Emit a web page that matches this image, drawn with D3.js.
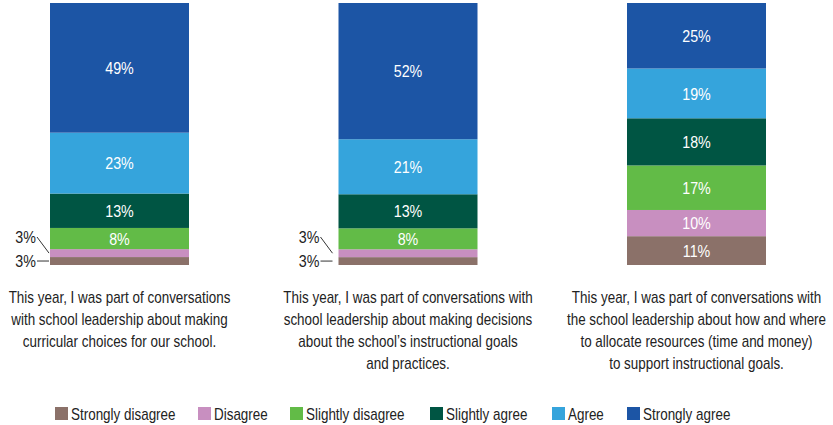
<!DOCTYPE html>
<meta charset="utf-8">
<style>
body { margin: 0; background: #fff; }
text { font-family: "Liberation Sans", Arial, sans-serif; }
</style>
<body>
<svg width="833" height="425"></svg>
<script src="https://cdn.jsdelivr.net/npm/d3@7"></script>
<script>
// categories (one per bar), label lines as shown
var categories = ["q1", "q2", "q3"];
var categoryLines = [
  ["This year, I was part of conversations", "with school leadership about making", "curricular choices for our school."],
  ["This year, I was part of conversations with", "school leadership about making decisions", "about the school\u2019s instructional goals", "and practices."],
  ["This year, I was part of conversations with", "the school leadership about how and where", "to allocate resources (time and money)", "to support instructional goals."]
];

// series, bottom to top
var keys = ["Strongly disagree", "Disagree", "Slightly disagree", "Slightly agree", "Agree", "Strongly agree"];
var stronglyDisagree = [3, 3, 11];
var disagree         = [3, 3, 10];
var slightlyDisagree = [8, 8, 17];
var slightlyAgree    = [13, 13, 18];
var agree            = [23, 21, 19];
var stronglyAgree    = [49, 52, 25];
var colors = ["#8b7169", "#c88fc0", "#62bb47", "#005543", "#35a4dc", "#1c55a5"];

var series = [stronglyDisagree, disagree, slightlyDisagree, slightlyAgree, agree, stronglyAgree];
var data = categories.map(function(c, i) {
  var row = {cat: c};
  keys.forEach(function(k, j) { row[k] = series[j][i]; });
  return row;
});

var svg = d3.select("svg");
var SX = 0.84; // squeeze to mimic the condensed face

// text helper: condensed look via horizontal scale
function label(px, py, anchor, fill, size) {
  return svg.append("text")
    .attr("transform", "translate(" + px + "," + py + ") scale(" + SX + ",1)")
    .attr("text-anchor", anchor)
    .attr("fill", fill)
    .attr("font-size", size);
}

var x = d3.scalePoint()
    .domain(categories)
    .range([119.5, 696.5]);
var barW = 139;

var y = d3.scaleLinear()
    .domain([0, 1])
    .range([265, 3]);

var z = d3.scaleOrdinal().domain(keys).range(colors);

var stacked = d3.stack().keys(keys).offset(d3.stackOffsetExpand)(data);

var layers = svg.append("g")
  .selectAll("g")
  .data(stacked)
  .enter().append("g")
    .attr("fill", function(d) { return z(d.key); });

layers.selectAll("rect")
  .data(function(d) { return d; })
  .enter().append("rect")
    .attr("x", function(d) { return x(d.data.cat) - barW / 2; })
    .attr("y", function(d) { return y(d[1]); })
    .attr("height", function(d) { return y(d[0]) - y(d[1]); })
    .attr("width", barW);

// value labels inside segments that are tall enough
stacked.forEach(function(layer) {
  layer.forEach(function(d) {
    var v = d.data[layer.key];
    var h = y(d[0]) - y(d[1]);
    var cy = (y(d[0]) + y(d[1])) / 2;
    if (h >= 16) {
      label(x(d.data.cat), cy, "middle", "#fff", 17)
        .attr("dy", "0.36em")
        .text(v + "%");
    }
  });
});

// outside labels with leaders for the small bottom segments
categories.forEach(function(c, i) {
  var bx = x(c) - barW / 2;
  var gap = i === 0 ? 1 : 6;
  var p = stacked[1][i];
  var pcy = (y(p[0]) + y(p[1])) / 2;
  if (y(p[0]) - y(p[1]) < 16) {
    svg.append("line")
      .attr("x1", bx - gap - 12).attr("y1", 237)
      .attr("x2", bx - gap).attr("y2", pcy)
      .attr("stroke", "#333").attr("stroke-width", 1);
    label(bx - gap - 13, 237, "end", "#222", 17)
      .attr("dy", "0.36em")
      .text(p.data[keys[1]] + "%");
  }
  var b = stacked[0][i];
  var bcy = (y(b[0]) + y(b[1])) / 2;
  if (y(b[0]) - y(b[1]) < 16) {
    svg.append("line")
      .attr("x1", bx - gap - 12).attr("y1", bcy)
      .attr("x2", bx - gap).attr("y2", bcy)
      .attr("stroke", "#333").attr("stroke-width", 1);
    label(bx - gap - 13, bcy, "end", "#222", 17)
      .attr("dy", "0.36em")
      .text(b.data[keys[0]] + "%");
  }
});

// category labels under each bar
categories.forEach(function(c, i) {
  var t = label(x(c), 303, "middle", "#222", 16);
  categoryLines[i].forEach(function(line, j) {
    t.append("tspan")
      .attr("x", 0)
      .attr("y", j * 22)
      .text(line);
  });
});

// legend
var legendX = [55, 198, 290, 430, 552, 627];
var legend = svg.append("g")
  .selectAll("g")
  .data(keys)
  .enter().append("g")
    .attr("transform", function(d, i) { return "translate(" + legendX[i] + ",407)"; });

legend.append("rect")
    .attr("width", 13)
    .attr("height", 13)
    .attr("fill", z);

legend.append("text")
    .attr("transform", "translate(16,12.5) scale(" + SX + ",1)")
    .attr("fill", "#222")
    .attr("font-size", 16)
    .text(function(d) { return d; });
</script>
</body>
